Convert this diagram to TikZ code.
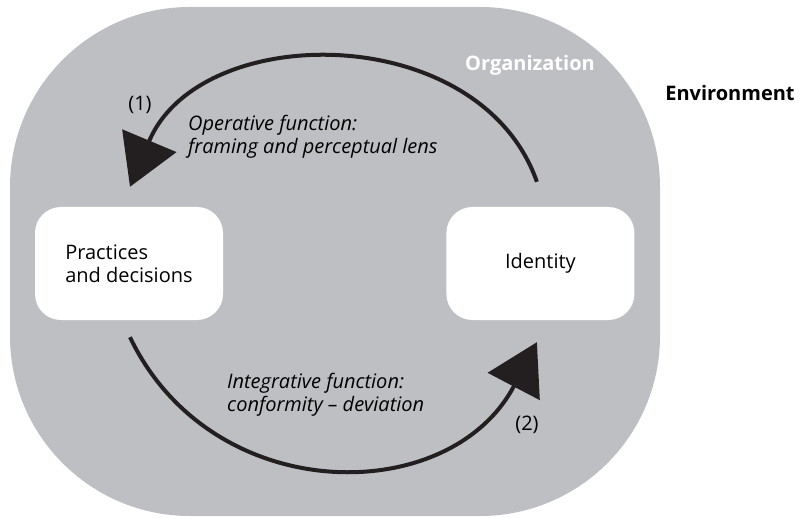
\documentclass[tikz,border=0pt]{standalone}
\usepackage{fontspec}
\setmainfont{Open Sans}
\usetikzlibrary{arrows.meta,positioning,calc}
\definecolor{orggray}{RGB}{190,191,195}
\definecolor{inkblack}{RGB}{35,31,32}

\begin{document}
\begin{tikzpicture}[
    % styles
    x=1pt, y=-1pt,
    every node/.style={font=\fontsize{20}{23}\selectfont, inner sep=0pt},
    orgbox/.style={rounded corners=180pt, fill=orggray, minimum width=650pt, minimum height=509pt},
    unit/.style={rounded corners=26pt, fill=white, minimum width=188pt, minimum height=113pt, align=left},
    flow/.style={draw=inkblack, line width=4pt, -{Triangle[length=50pt,width=58pt]}},
    caption/.style={align=left, anchor=west, font=\fontsize{20}{23}\selectfont\itshape},
    tag/.style={font=\fontsize{20}{23}\selectfont\bfseries}
]
    \useasboundingbox (0,0) rectangle (799,518);

    % --- 1. Organization and environment ---
    \node[orgbox] (org) at (335,261.5) {};
    \node[tag, text=white] (orgname) at (530,65) {Organization};
    \node[tag] (env) at (730,93) {Environment};

    % --- 2. The two units ---
    \node[unit] (prac) at (129,263.5) {Practices\\and decisions};
    \node[unit, right=223pt of prac] (ident) {Identity};

    % --- 3. Arrows between them ---
    \draw[flow] ($(ident.north)+(-3.5,-25)$)
        .. controls +(-57,-162) and +(70,-167) .. ($(prac.north)+(1,-20)$);
    \draw[flow] ($(prac.south)+(1,17)$)
        .. controls +(82,171) and +(-87,166) .. ($(ident.south)+(-3.5,22)$);

    % --- 4. Labels ---
    \node (n1) at (140,105) {(1)};
    \node (n2) at (527,425) {(2)};
    \node[caption] (op) at (188,137) {Operative function:\\framing and perceptual lens};
    \node[caption] (integ) at (227,395) {Integrative function:\\conformity -- deviation};

\end{tikzpicture}
\end{document}
